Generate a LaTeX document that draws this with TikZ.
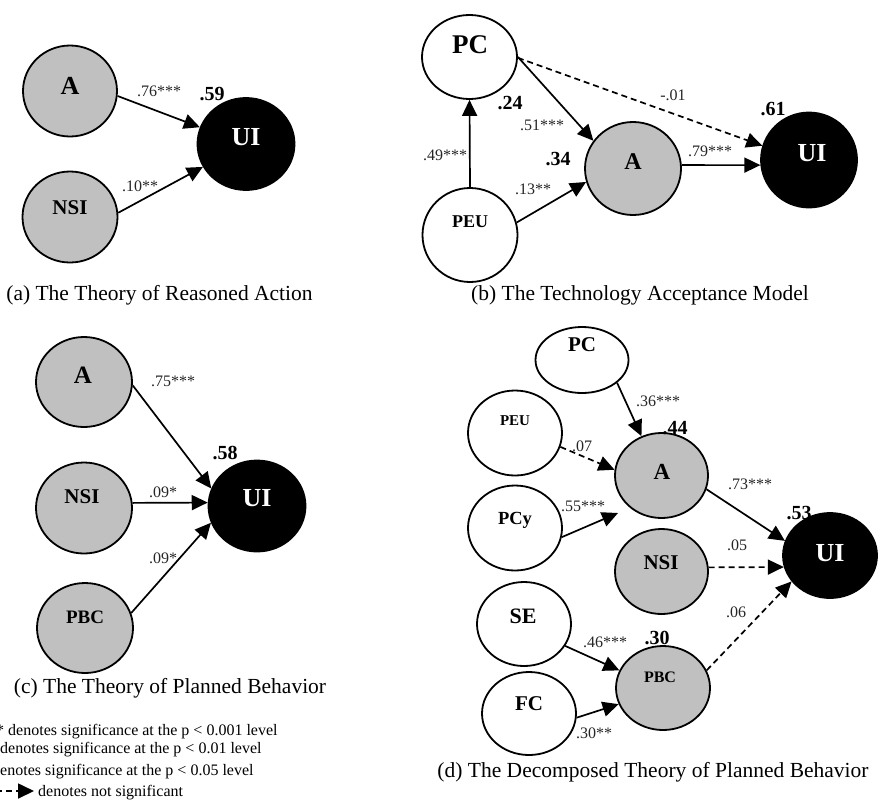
\documentclass[tikz,border=0pt]{standalone}
\usepackage{fontspec}
\setmainfont{Liberation Serif}
\usetikzlibrary{arrows.meta,shapes.geometric}
\definecolor{nodegray}{HTML}{C0C0C0}
\definecolor{labgray}{HTML}{262626}
\tikzset{
  ell/.style={ellipse,draw=black,line width=1.8pt,inner sep=0pt,minimum width=#1},
  whitenode/.style={ell=94pt,fill=white},
  graynode/.style={ell=94pt,fill=nodegray},
  blacknode/.style={ell=94pt,fill=black},
  nl/.style={font=\bfseries\fontsize{#1}{#1}\selectfont,inner sep=0pt,text height={0.662*#1*1pt},text depth=0pt,anchor=center},
  nlw/.style={nl=#1,text=white},
  el/.style={font=\fontsize{16}{16}\selectfont,text=labgray,inner sep=0pt,text height=10.8pt,text depth=0pt,anchor=center},
  rsq/.style={font=\bfseries\fontsize{20}{20}\selectfont,inner sep=0pt,text height=13.5pt,text depth=0pt,anchor=center},
  captext/.style={font=\fontsize{21.5}{21.5}\selectfont,inner sep=0pt,anchor=center},
  leg/.style={font=\fontsize{16}{16}\selectfont,inner sep=0pt,anchor=base west},
  arr/.style={line width=1.7pt,-{Triangle[length=16pt,width=15pt]}},
  dsh/.style={arr,dash pattern=on 6pt off 4pt}
}
\begin{document}
\begin{tikzpicture}[x=1pt,y=-1pt]
\clip (0,0) rectangle (882,806);
\fill[white] (0,0) rectangle (882,806);

% ---------- (a) ----------
\node[graynode,minimum width=94pt,minimum height=91pt] (aA) at (70,91) {};
\node[graynode,minimum width=95pt,minimum height=91pt] (aNSI) at (70,217) {};
\node[blacknode,minimum width=97pt,minimum height=92pt] (aUI) at (246,144) {};
\node[nl=26] (aAt) at (70,86) {A};
\node[nl=21] (aNSIt) at (70,208) {NSI};
\node[nlw=26] (aUIt) at (246,137) {UI};
\draw[arr] (aA.-6) -- (aUI.160);
\draw[arr] (aNSI.5) -- (aUI.208);
\node[el] (a1) at (159,91) {.76***};
\node[el] (a2) at (140,186) {.10**};
\node[rsq] (a3) at (212,94) {.59};
\node[captext] (acap) at (159.5,295) {(a) The Theory of Reasoned Action};

% ---------- (b) ----------
\node[whitenode,minimum width=95pt,minimum height=84pt] (bPC) at (469.5,57) {};
\node[whitenode,minimum width=95pt,minimum height=94pt] (bPEU) at (470,235) {};
\node[graynode,minimum width=96pt,minimum height=93pt] (bA) at (633,168.5) {};
\node[blacknode,minimum width=96pt,minimum height=95pt] (bUI) at (809,160) {};
\node[nl=27] (bPCt) at (470,45) {PC};
\node[nl=18] (bPEUt) at (470,222) {PEU};
\node[nl=24] (bAt) at (633,162) {A};
\node[nlw=26] (bUIt) at (812,153) {UI};
\draw[arr] (bPEU.90) -- (bPC.-90);
\draw[arr] (bPC.0) -- (bA.145);
\draw[dsh] (bPC.-1) -- (bUI.163);
\draw[arr] (bA.4) -- (bUI.186);
\draw[arr] (bPEU.15) -- (bA.196);
\node[rsq] (b1) at (510,103) {.24};
\node[el] (b2) at (542,125) {.51***};
\node[el] (b3) at (673,95) {-.01};
\node[rsq] (b4) at (773,109) {.61};
\node[el] (b5) at (445,155) {.49***};
\node[rsq] (b6) at (558,159) {.34};
\node[el] (b7) at (533,189) {.13**};
\node[el] (b8) at (710,151) {.79***};
\node[captext] (bcap) at (640,295) {(b) The Technology Acceptance Model};

% ---------- (c) ----------
\node[graynode,minimum width=96pt,minimum height=90pt] (cA) at (84,382) {};
\node[graynode,minimum width=96pt,minimum height=91pt] (cNSI) at (84,508) {};
\node[graynode,minimum width=96pt,minimum height=90pt] (cPBC) at (85,628) {};
\node[blacknode,minimum width=97pt,minimum height=91pt] (cUI) at (257,506) {};
\node[nl=25] (cAt) at (83,375) {A};
\node[nl=21] (cNSIt) at (82,497) {NSI};
\node[nl=19] (cPBCt) at (85,617) {PBC};
\node[nlw=26] (cUIt) at (257,498) {UI};
\draw[arr] (cA.-4) -- (cUI.159);
\draw[arr] (cNSI.6) -- (cUI.176);
\draw[arr] (cPBC.18) -- (cUI.200);
\node[rsq] (c1) at (225,453) {.58};
\node[el] (c2) at (173,381) {.75***};
\node[el] (c3) at (163,492) {.09*};
\node[el] (c4) at (163,558) {.09*};
\node[captext] (ccap) at (170,688) {(c) The Theory of Planned Behavior};

% ---------- legend ----------
\node[leg] (l1) at (-20,735) {*** denotes significance at the p < 0.001 level};
\node[leg] (l2) at (-20,753.5) {** denotes significance at the p < 0.01 level};
\node[leg] (l3) at (-20,775) {* denotes significance at the p < 0.05 level};
\node[leg] (l4) at (38,796) {denotes not significant};
\coordinate (lstart) at (-14,791);
\coordinate (lend) at (34,791);
\draw[dsh] (lstart) -- (lend);

% ---------- (d) ----------
\node[whitenode,minimum width=93pt,minimum height=66pt] (dPC) at (582,360) {};
\node[whitenode,minimum width=94pt,minimum height=85pt] (dPEU) at (515,433) {};
\node[graynode,minimum width=93pt,minimum height=85pt] (dA) at (661.5,475.5) {};
\node[whitenode,minimum width=94pt,minimum height=85pt] (dPCy) at (515,528) {};
\node[graynode,minimum width=93pt,minimum height=85pt] (dNSI) at (661.5,571.5) {};
\node[blacknode,minimum width=94pt,minimum height=85pt] (dUI) at (830,555.5) {};
\node[whitenode,minimum width=94pt,minimum height=84pt] (dSE) at (524,624) {};
\node[whitenode,minimum width=94pt,minimum height=83pt] (dFC) at (529,713.5) {};
\node[graynode,minimum width=94pt,minimum height=84pt] (dPBC) at (663,688) {};
\node[nl=21] (dPCt) at (582,345) {PC};
\node[nl=15] (dPEUt) at (515,421) {PEU};
\node[nl=23] (dAt) at (662,472) {A};
\node[nl=18.5] (dPCyt) at (515,518) {PCy};
\node[nl=21] (dNSIt) at (661,563) {NSI};
\node[nlw=26] (dUIt) at (830,553) {UI};
\node[nl=22] (dSEt) at (523,616) {SE};
\node[nl=21] (dFCt) at (529,704) {FC};
\node[nl=16] (dPBCt) at (660,677) {PBC};
\coordinate (dPCyEnd) at (618,513);
\draw[arr] (dPC.-33) -- (dA.117);
\draw[dsh] (dPEU.-17) -- (dA.173);
\draw[arr] (dPCy.-11) -- (dPCyEnd);
\draw[arr] (dA.-17) -- (dUI.162);
\draw[dsh] (dNSI.5) -- (dUI.194);
\draw[dsh] (dPBC.22) -- (dUI.214);
\draw[arr] (dSE.-28) -- (dPBC.158);
\draw[arr] (dFC.-5) -- (dPBC.200);
\node[el] (d1) at (658,401) {.36***};
\node[rsq] (d2) at (675,428) {.44};
\node[el] (d3) at (582,446) {.07};
\node[el] (d4) at (750,484) {.73***};
\node[el] (d5) at (583,506) {.55***};
\node[rsq] (d6) at (799,513) {.53};
\node[el] (d7) at (737,545) {.05};
\node[el] (d8) at (736,612) {.06};
\node[el] (d9) at (605,642) {.46***};
\node[rsq] (d10) at (657,638) {.30};
\node[el] (d11) at (594,733) {.30**};
\node[captext] (dcap) at (653,772) {(d) The Decomposed Theory of Planned Behavior};
\end{tikzpicture}
\end{document}
